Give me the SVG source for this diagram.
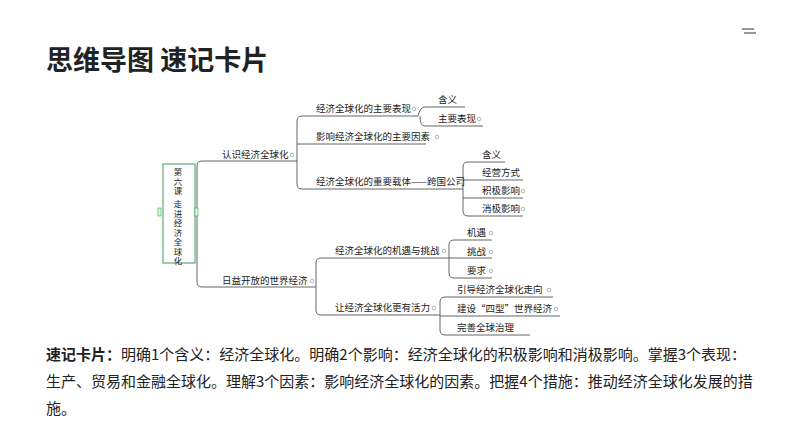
<svg xmlns="http://www.w3.org/2000/svg" width="794" height="447" viewBox="0 0 794 447">
<style>
.t{font-family:"Noto Sans CJK SC","Liberation Sans",sans-serif;fill:#222}
.n{font-size:9.5px}
.l{fill:none;stroke:#555;stroke-width:0.9}
.d{fill:#fff;stroke:#9aa;stroke-width:0.8}
</style>
<rect width="794" height="447" fill="#fff"/>
<g stroke="#333" stroke-width="1"><line x1="742" y1="29" x2="754" y2="29"/><line x1="744" y1="33" x2="756" y2="33"/></g>
<text class="t" x="46" y="70" font-size="27" font-weight="bold">思维导图 速记卡片</text>
<g id="connectors" class="l">
<path d="M195 212 H197 M197 166 Q197 161 202 161 H297 M197 166 V282 Q197 287 202 287 H316"/>
<path d="M297 121 Q297 116 302 116 H418 M297 121 V184 Q297 189 302 189 H461 M297 144 H426"/>
<path d="M418 116 Q420 107 425 107 H465 M420 116 Q420 126 425 126 H483"/>
<path d="M461 189 H463 M463 167 Q463 162 468 162 H505 M463 167 V211 Q463 216 468 216 H523 M463 180 H523 M463 198 H523"/>
<path d="M316 263 Q316 258 321 258 H445 M316 263 V310 Q316 315 321 315 H438"/>
<path d="M445 258 H449 M449 245 Q449 240 454 240 H492 M449 245 V273 Q449 278 454 278 H492 M449 258 H492"/>
<path d="M438 315 H440 M440 302 Q440 297 445 297 H553 M440 302 V330 Q440 335 445 335 H530 M440 316 H560"/>
</g>
<g id="root"><rect x="163" y="164" width="32" height="99" fill="#fff" stroke="#3a9a5a" stroke-width="1"/>
<rect x="158" y="208" width="3" height="8" fill="#dfd" stroke="#3a9a5a" stroke-width="0.6"/><rect x="195" y="208" width="3" height="8" fill="#dfd" stroke="#3a9a5a" stroke-width="0.6"/>
<text class="t" font-size="8.5" text-anchor="middle"><tspan x="178" y="175">第</tspan><tspan x="178" y="184.5">六</tspan><tspan x="178" y="194">课</tspan><tspan x="178" y="207">走</tspan><tspan x="178" y="216.5">进</tspan><tspan x="178" y="226">经</tspan><tspan x="178" y="235.5">济</tspan><tspan x="178" y="245">全</tspan><tspan x="178" y="254.5">球</tspan><tspan x="178" y="264">化</tspan></text></g>
<g id="b1"><text class="t n" x="222" y="158">认识经济全球化</text><circle class="d" cx="292" cy="155" r="1.8"/></g>
<g id="b1a"><text class="t n" x="316" y="112">经济全球化的主要表现</text><circle class="d" cx="414" cy="109" r="1.8"/></g>
<g id="b1a1"><text class="t n" x="438" y="103">含义</text></g>
<g id="b1a2"><text class="t n" x="438" y="122">主要表现</text><circle class="d" cx="479" cy="119" r="1.8"/></g>
<g id="b1b"><text class="t n" x="316" y="140">影响经济全球化的主要因素</text><circle class="d" cx="437" cy="137" r="1.8"/></g>
<g id="b1c"><text class="t n" x="316" y="185">经济全球化的重要载体——跨国公司</text><circle class="d" cx="461" cy="182" r="1.8"/></g>
<g id="b1c1"><text class="t n" x="482" y="158">含义</text></g>
<g id="b1c2"><text class="t n" x="482" y="176">经营方式</text></g>
<g id="b1c3"><text class="t n" x="482" y="194">积极影响</text><circle class="d" cx="523" cy="191" r="1.8"/></g>
<g id="b1c4"><text class="t n" x="482" y="212">消极影响</text><circle class="d" cx="523" cy="209" r="1.8"/></g>
<g id="b2"><text class="t n" x="222" y="284">日益开放的世界经济</text><circle class="d" cx="312" cy="281" r="1.8"/></g>
<g id="b2a"><text class="t n" x="335" y="254">经济全球化的机遇与挑战</text><circle class="d" cx="444" cy="251" r="1.8"/></g>
<g id="b2a1"><text class="t n" x="467" y="236">机遇</text><circle class="d" cx="491" cy="233" r="1.8"/></g>
<g id="b2a2"><text class="t n" x="467" y="255">挑战</text><circle class="d" cx="491" cy="252" r="1.8"/></g>
<g id="b2a3"><text class="t n" x="467" y="274">要求</text><circle class="d" cx="491" cy="271" r="1.8"/></g>
<g id="b2b"><text class="t n" x="335" y="311">让经济全球化更有活力</text><circle class="d" cx="434" cy="308" r="1.8"/></g>
<g id="b2b1"><text class="t n" x="457" y="293">引导经济全球化走向</text><circle class="d" cx="549" cy="290" r="1.8"/></g>
<g id="b2b2"><text class="t n" x="457" y="312">建设“四型”世界经济</text><circle class="d" cx="556" cy="309" r="1.8"/></g>
<g id="b2b3"><text class="t n" x="457" y="331">完善全球治理</text></g>
<g class="t" font-size="15">
<text x="46" y="360"><tspan font-weight="bold">速记卡片：</tspan>明确1个含义：经济全球化。明确2个影响：经济全球化的积极影响和消极影响。掌握3个表现：</text>
<text x="46" y="387">生产、贸易和金融全球化。理解3个因素：影响经济全球化的因素。把握4个措施：推动经济全球化发展的措</text>
<text x="46" y="414">施。</text>
</g>
</svg>
